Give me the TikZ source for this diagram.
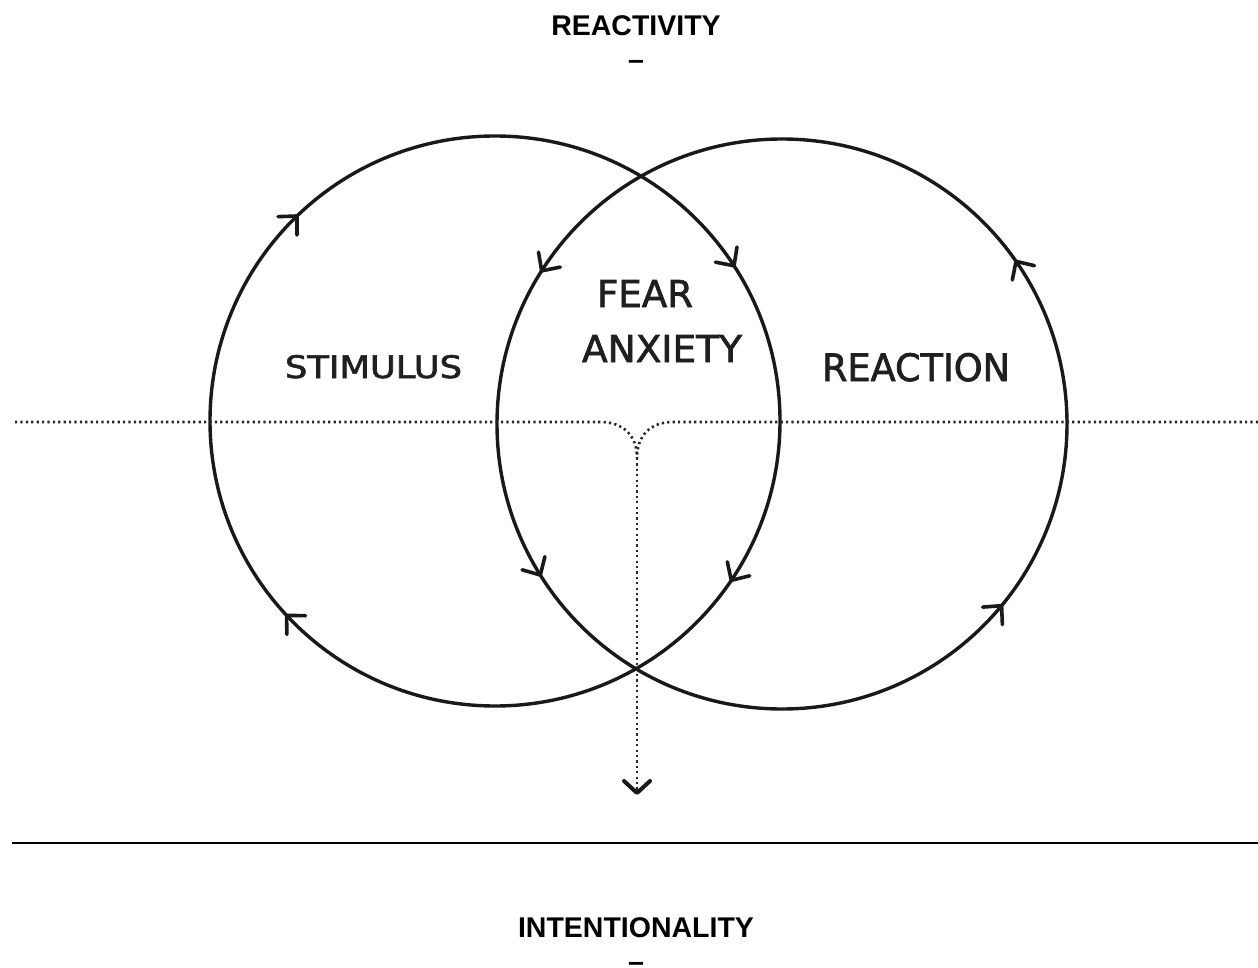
\documentclass[tikz,border=0pt]{standalone}
\usepackage{fontspec}
\setmainfont{Liberation Sans}
\newfontfamily\handfont[FakeBold=1.8]{DejaVu Sans}
\usetikzlibrary{calc}

% hand-lettered label: fixed width and cap height
\newcommand{\handlabel}[3]{\resizebox{#1pt}{#2pt}{\handfont #3}}

\begin{document}
\begin{tikzpicture}[x=1pt,y=-1pt,
  ring/.style={line width=3.4pt, black!90},
  barb/.style={line width=3.6pt, black!90, line cap=round, line join=round},
  dotline/.style={line width=2.6pt, black!85, dash pattern=on 2.2pt off 3.2pt},
  rule/.style={line width=2.8pt, black},
  title/.style={font=\fontsize{28.5}{34.2}\selectfont\bfseries, align=center, inner sep=0pt, anchor=north},
  hand/.style={inner sep=0pt, anchor=base, black!88}
]
\useasboundingbox (0,0) rectangle (1258,968);
\fill[white] (0,0) rectangle (1258,968);

% titles
\node[title] (top) at (636,15) {REACTIVITY\\–};
\node[title] (bottom) at (636,917) {INTENTIONALITY\\–};

% circle centres
\coordinate (cL) at (495,421);
\coordinate (cR) at (782,424);

% the two loops
\draw[ring] (cL) circle[radius=285];
\draw[ring] (cR) circle[radius=285];

% direction marks: left loop clockwise
\foreach \a in {226,327,34,137}{
  \coordinate (p) at ($(cL)+(\a:285)$);
  \coordinate (q) at ($(cL)+(\a-4:285)$);
  \draw[barb] ($(p)!19pt!44:(q)$) -- (p) -- ($(p)!19pt!-44:(q)$);
}
% direction marks: right loop counter-clockwise
\foreach \a in {212.5,148,39.6,325.2}{
  \coordinate (p) at ($(cR)+(\a:285)$);
  \coordinate (q) at ($(cR)+(\a+4:285)$);
  \draw[barb] ($(p)!19pt!44:(q)$) -- (p) -- ($(p)!19pt!-44:(q)$);
}

% dotted divider merging into a downward path
\coordinate (dl) at (15,422);
\coordinate (dr) at (1258,422);
\coordinate (bl) at (600,422);
\coordinate (br) at (673,422);
\coordinate (merge) at (637,458);
\coordinate (down) at (637,793);
\draw[dotline] (dl) -- (bl) .. controls (624,422) and (637,436) .. (merge);
\draw[dotline] (dr) -- (br) .. controls (650,422) and (637,436) .. (merge);
\draw[dotline] (merge) -- (down);
\draw[barb, line width=4pt] ($(down)+(-13,-12)$) -- (down) -- ($(down)+(13,-12)$);

% labels
\node[hand] (stim) at (373.5,378) {\handlabel{177}{23}{STIMULUS}};
\node[hand] (fear) at (645,307) {\handlabel{96}{27}{FEAR}};
\node[hand] (anx) at (662,362) {\handlabel{160}{27}{ANXIETY}};
\node[hand] (react) at (916,381) {\handlabel{188}{28}{REACTION}};

% horizontal rule
\draw[rule] (12,843) -- (1258,843);
\end{tikzpicture}
\end{document}
